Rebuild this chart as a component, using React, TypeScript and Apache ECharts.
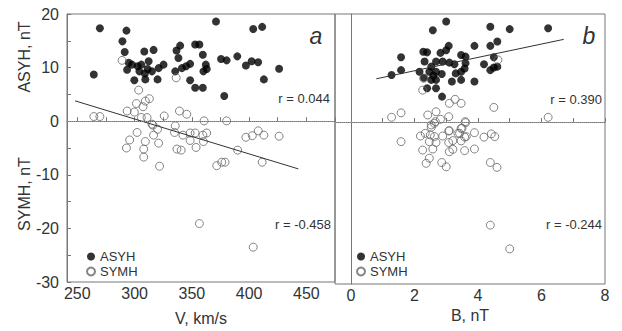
import React, { useEffect, useRef } from "react";
import * as echarts from "echarts";

// Panel a: V (km/s) vs ASYH / SYMH (nT)
const leftAsyh: number[][] = [
  [269.7, 17.35], [264.4, 8.7], [292.9, 16.9], [289.4, 14.9], [291.4, 12.9], [294.9, 10.9],
  [293.5, 9.6], [299.8, 7.65], [304.2, 9.3], [305.9, 10.55], [308.5, 13.0], [309.4, 7.8],
  [311.4, 9.75], [312.3, 11.2], [316.6, 13.3], [315.2, 9.3], [320.1, 7.8], [321, 9.9],
  [325.3, 10.55], [302.7, 10.25], [336.6, 13.2], [339.8, 14.1], [338.3, 11.8], [335.5, 9.3],
  [341.3, 9.9], [345, 10.25], [348.5, 10.7], [348.5, 7.65], [352.9, 14.3], [356.6, 14.3],
  [359.6, 12.4], [362.2, 10.55], [360.1, 9.3], [352.9, 6.25], [359.6, 6.25], [371.1, 18.6],
  [375.5, 11.6], [380.4, 11.35], [378.3, 4.7], [389.7, 12.1], [397.2, 10.4], [402.2, 11.2],
  [407.9, 11], [403.6, 17.2], [411.4, 17.6], [412.9, 7.8], [426.2, 9.8], [297.8, 10.55],
  [309, 8.9], [363, 9.75],
];
const leftSymh: number[][] = [
  [289.1, 11.35], [336.3, 8.1], [264.4, 0.87], [269.7, 0.87], [303.6, 5.8], [301.6, 3.3],
  [307.4, 2.7], [312.9, 4.2], [309.4, 3.76], [293.5, 1.9], [299.8, 1.7], [305.9, 0.68],
  [310.9, 0.68], [325.9, 0.98], [339.2, 1.9], [345.6, 1.3], [315.2, -0.55], [302.2, -2.1],
  [295.7, -3.5], [292.9, -5], [309.4, -3.8], [308, -5.2], [308, -6.7], [316, -0.74],
  [316.6, -2.6], [320.1, -1.5], [321, -4.1], [321.8, -8.4], [335.5, -0.87], [334.9, -2.1],
  [342.2, -2.6], [337, -5.2], [340.7, -5.4], [348.5, -2.2], [352.9, -2.2], [348.5, -3.6],
  [353.7, -4.9], [359.6, -2.6], [363, -2.2], [360.1, -3.8], [360.7, 0.06], [380.4, 0.06],
  [371.7, -8.3], [376.1, -7.65], [379, -7.65], [390, -5.4], [397.2, -3.0], [402.8, -2.7],
  [408, -1.8], [412.9, -2.6], [411.4, -7.65], [426.2, -2.8], [356.6, -19.1], [403.6, -23.5],
];
const leftFit: number[][] = [[248, 3.8], [443, -8.9]];

// Panel b: B (nT) vs ASYH / SYMH (nT)
const rightAsyh: number[][] = [
  [3.0, 18.6], [2.58, 17.0], [4.39, 17.65], [5.0, 17.2], [6.21, 17.35], [4.61, 14.9],
  [4.39, 14.1], [3.89, 14.1], [3.08, 14.1], [3.0, 13.3], [2.28, 13.0], [2.4, 12.9],
  [2.82, 12.8], [1.58, 12.0], [3.47, 12.4], [3.61, 12.1], [2.32, 11.2], [2.68, 11.2],
  [2.89, 11.2], [3.1, 11.0], [3.26, 10.7], [2.53, 10.25], [1.58, 9.6], [1.28, 8.7],
  [2.16, 9.3], [2.47, 9.3], [2.68, 9.3], [2.86, 8.9], [3.58, 9.9], [3.61, 10.9],
  [4.19, 10.7], [4.39, 9.6], [4.5, 10.1], [4.61, 10.25], [4.5, 12.0], [3.47, 9.3],
  [2.53, 7.8], [2.68, 7.8], [3.18, 7.5], [3.47, 7.8], [3.89, 7.5], [2.4, 6.25],
  [2.68, 6.25], [2.87, 4.7], [2.3, 8.2], [2.6, 8.6], [3.3, 9.0],
];
const rightSymh: number[][] = [
  [2.29, 8.1], [2.26, 5.9], [4.63, 11.5], [3.1, 3.46], [3.28, 4.2], [3.47, 3.46],
  [4.5, 2.7], [1.28, 0.87], [1.58, 1.7], [2.42, 1.3], [2.68, 1.9], [3.08, 0.98],
  [2.82, 0.5], [6.21, 0.87], [2.63, -0.25], [2.53, -0.99], [3.61, -0.12], [1.58, -3.64],
  [2.19, -2.6], [2.34, -2.1], [2.63, -2.7], [2.89, -2.6], [3.1, -1.6], [3.42, -2.1],
  [3.47, -1.17], [3.63, -2.7], [3.89, -1.98], [4.19, -2.8], [4.42, -2.2], [4.53, -2.7],
  [2.53, -0.55], [2.66, 0.06], [3.6, 0.06], [3.5, -1.17], [2.5, -2.4], [3.08, -1.67],
  [3.37, -2.1], [3.58, -2.8], [2.47, -3.64], [2.68, -3.8], [3.08, -3.8], [3.21, -3.45],
  [3.47, -3.5], [2.26, -5.2], [2.58, -5], [3.1, -5.5], [3.21, -5.06], [3.58, -5.3],
  [3.89, -5], [2.47, -6.7], [2.37, -7.65], [2.86, -7.5], [3.0, -8.3], [4.39, -7.5],
  [4.6, -8.4], [4.39, -19.1], [5.0, -23.5],
];
const rightFit: number[][] = [[0.8, 8.0], [6.7, 15.3]];

const seriesNames = ["ASYH", "SYMH"];
const panelLetters = ["a", "b"];
const rLeft = ["r = 0.044", "r = -0.458"];
const rRight = ["r = 0.390", "r = -0.244"];
const yTitles = ["ASYH, nT", "SYMH, nT"];
const xTitles = ["V, km/s", "B, nT"];

const FONT = "Liberation Sans, Arial, sans-serif";
const FRAME = "#777";
const TEXT = "#333";

export default function App() {
  const ref = useRef<HTMLDivElement>(null);
  useEffect(() => {
    if (!ref.current) return;
    const chart = echarts.init(ref.current, undefined, { renderer: "svg" });

    const mult = (step: number) => (v: number) =>
      Math.abs(v - Math.round(v / step) * step) < 1e-6 ? String(Math.round(v)) : "";

    const xAxisBase = (gridIndex: number, min: number, max: number, step: number, name: string, gap: number) => ({
      type: "value",
      gridIndex,
      min,
      max,
      minInterval: step,
      maxInterval: step,
      splitNumber: 5,
      name,
      nameLocation: "middle",
      nameGap: gap,
      nameMoveOverlap: false,
      nameTextStyle: { fontSize: 16, lineHeight: 14, color: TEXT, fontFamily: FONT },
      axisLine: { show: true, lineStyle: { color: FRAME, width: 1 } },
      axisTick: { show: true, inside: true, length: 4, lineStyle: { color: FRAME } },
      minorTick: { show: true, splitNumber: 2, length: 4, lineStyle: { color: FRAME } },
      splitLine: { show: false },
      minorSplitLine: { show: false },
      axisLabel: { fontSize: 16, lineHeight: 13, color: TEXT, margin: 5, fontFamily: FONT, formatter: mult(step) },
    });

    const yAxisBase = (gridIndex: number, labels: boolean) => ({
      type: "value",
      gridIndex,
      min: -30,
      max: 20,
      interval: 10,
      axisLine: { show: true, lineStyle: { color: FRAME, width: 1 } },
      axisTick: { show: labels, inside: true, length: 4, lineStyle: { color: FRAME } },
      minorTick: { show: labels, splitNumber: 2, length: 4, lineStyle: { color: FRAME } },
      splitLine: { show: false },
      axisLabel: { show: labels, fontSize: 16, color: TEXT, margin: 8, fontFamily: FONT },
    });

    const filled = (name: string, idx: number, data: number[][]) => ({
      type: "scatter",
      name,
      xAxisIndex: idx,
      yAxisIndex: idx,
      data,
      symbol: "circle",
      symbolSize: 8,
      itemStyle: { color: "#000" },
      markLine: {
        silent: true,
        symbol: ["none", "none"],
        label: { show: false },
        lineStyle: { type: "dotted", color: "#999", width: 1 },
        data: [{ yAxis: 0 }],
      },
      z: 2,
    });
    const open = (name: string, idx: number, data: number[][]) => ({
      type: "scatter",
      name,
      xAxisIndex: idx,
      yAxisIndex: idx,
      data,
      symbol: "circle",
      symbolSize: 8,
      itemStyle: { color: "rgba(255,255,255,0)", borderColor: "#666", borderWidth: 1 },
      z: 3,
    });
    const fit = (idx: number, data: number[][]) => ({
      type: "line",
      xAxisIndex: idx,
      yAxisIndex: idx,
      data,
      symbol: "none",
      clip: false,
      lineStyle: { color: "#333", width: 1 },
      z: 4,
    });

    const legendBase = (left: number) => ({
      data: seriesNames,
      orient: "vertical",
      left,
      top: 245,
      itemWidth: 8,
      itemHeight: 8,
      itemGap: 2,
      itemTextGap: 12,
      icon: "circle",
      selectedMode: false,
      textStyle: { fontSize: 13, lineHeight: 13, color: TEXT, fontFamily: FONT },
    });

    const rText = (x: number, y: number, text: string) => ({
      type: "text",
      x,
      y,
      style: { text, fontSize: 13, fill: TEXT, align: "right", verticalAlign: "middle", fontFamily: FONT },
    });
    const letter = (x: number, y: number, text: string) => ({
      type: "text",
      x,
      y,
      style: { text, fontSize: 23, fontStyle: "italic", fill: TEXT, align: "center", verticalAlign: "middle", fontFamily: FONT },
    });
    const yTitle = (y: number, text: string) => ({
      type: "text",
      x: 24,
      y,
      rotation: Math.PI / 2,
      style: { text, fontSize: 16, fill: TEXT, align: "center", verticalAlign: "middle", fontFamily: FONT },
    });

    chart.setOption({
      animation: false,
      backgroundColor: "#fff",
      textStyle: { fontFamily: FONT },
      grid: [
        { left: 67, top: 14, width: 268, height: 270, show: true, borderColor: FRAME, borderWidth: 1, backgroundColor: "transparent" },
        { left: 335, top: 14, width: 270, height: 270, show: true, borderColor: FRAME, borderWidth: 1, backgroundColor: "transparent" },
      ],
      xAxis: [
        xAxisBase(0, 241, 475, 50, xTitles[0], 29),
        xAxisBase(1, -0.5, 8, 2, xTitles[1], 24),
      ],
      yAxis: [yAxisBase(0, true), yAxisBase(1, false)],
      legend: [legendBase(81), legendBase(351)],
      series: [
        filled(seriesNames[0], 0, leftAsyh),
        open(seriesNames[1], 0, leftSymh),
        fit(0, leftFit),
        filled(seriesNames[0], 1, rightAsyh),
        open(seriesNames[1], 1, rightSymh),
        fit(1, rightFit),
      ],
      graphic: [
        yTitle(57, yTitles[0]),
        yTitle(194, yTitles[1]),
        letter(316, 36, panelLetters[0]),
        letter(589, 36, panelLetters[1]),
        rText(330, 98, rLeft[0]),
        rText(331, 224, rLeft[1]),
        rText(602, 99, rRight[0]),
        rText(602, 224, rRight[1]),
      ],
    });
    return () => chart.dispose();
  }, []);
  return <div ref={ref} style={{ position: "fixed", left: 0, top: 0, width: 622, height: 331 }} />;
}
